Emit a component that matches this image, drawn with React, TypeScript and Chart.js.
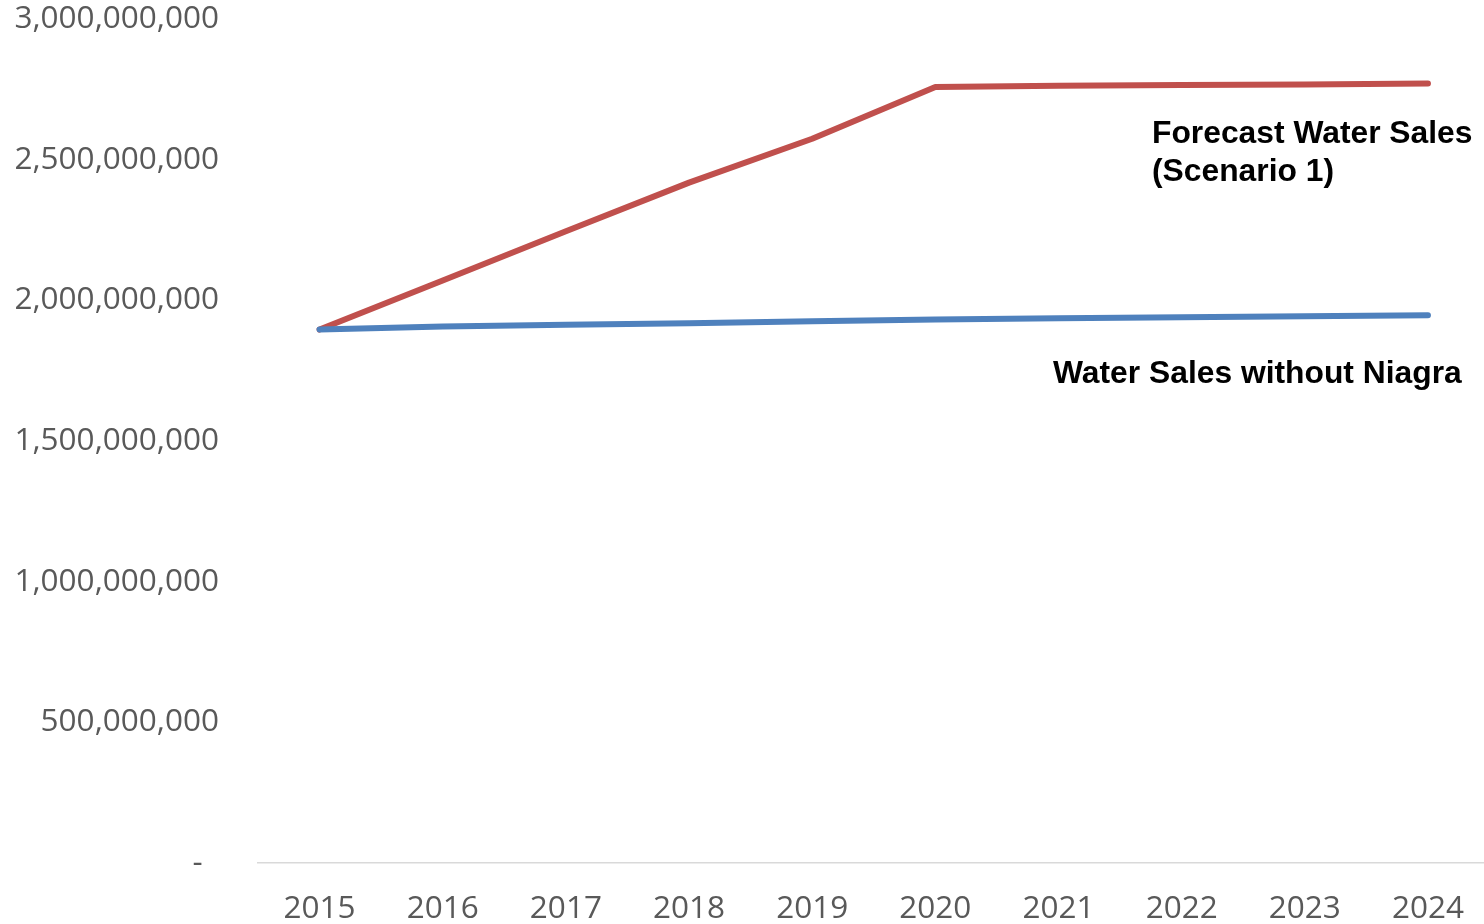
import React, { useEffect, useRef } from "react";
import { Chart, registerables } from "chart.js";

Chart.register(...registerables);

const years = [2015, 2016, 2017, 2018, 2019, 2020, 2021, 2022, 2023, 2024];
const forecastScenario1 = [
  1.896e9, 2.07e9, 2.245e9, 2.418e9, 2.574e9, 2.758e9, 2.762e9, 2.765e9, 2.767e9, 2.77e9,
];
const withoutNiagra = [
  1.896e9, 1.907e9, 1.913e9, 1.918e9, 1.925e9, 1.932e9, 1.936e9, 1.94e9, 1.943e9, 1.947e9,
];
const yTicks = [0, 5e8, 1e9, 1.5e9, 2e9, 2.5e9, 3e9];
const forecastLabel = ["Forecast Water Sales", "(Scenario 1)"];
const withoutLabel = "Water Sales without Niagra";

const tickFont = { family: '"Open Sans", "DejaVu Sans", sans-serif', size: 31.5 };

const annotationPlugin = {
  id: "seriesLabels",
  afterDraw(chart: any) {
    const ctx = chart.ctx;
    ctx.save();
    ctx.font = 'bold 31.8px "Liberation Sans", Arial, sans-serif';
    ctx.fillStyle = "#000000";
    ctx.textAlign = "left";
    ctx.textBaseline = "middle";
    ctx.fillText(forecastLabel[0], 1152, 134);
    ctx.fillText(forecastLabel[1], 1152, 172);
    ctx.fillText(withoutLabel, 1053, 374);
    ctx.restore();
  },
};

export default function App() {
  const canvasRef = useRef<HTMLCanvasElement | null>(null);

  useEffect(() => {
    if (!canvasRef.current) return;
    const chart = new Chart(canvasRef.current, {
      type: "line",
      data: {
        datasets: [
          {
            label: withoutLabel,
            data: years.map((x, i) => ({ x, y: withoutNiagra[i] })),
            borderColor: "#4F81BD",
            backgroundColor: "#4F81BD",
            borderWidth: 6,
            pointRadius: 0,
            tension: 0,
            borderCapStyle: "round",
            borderJoinStyle: "round",
          },
          {
            label: forecastLabel.join(" "),
            data: years.map((x, i) => ({ x, y: forecastScenario1[i] })),
            borderColor: "#C0504D",
            backgroundColor: "#C0504D",
            borderWidth: 6,
            pointRadius: 0,
            tension: 0,
            borderCapStyle: "round",
            borderJoinStyle: "round",
          },
        ],
      },
      options: {
        responsive: false,
        animation: false,
        layout: { padding: { left: 0, right: 0, top: 0, bottom: 0 } },
        plugins: {
          legend: { display: false },
          tooltip: { enabled: false },
        },
        scales: {
          x: {
            type: "linear",
            min: 2014.5,
            max: 2024.455,
            grid: { display: false, drawTicks: true, tickLength: 27 },
            border: { display: true, color: "#d9d9d9", width: 1.5 },
            ticks: {
              font: tickFont,
              color: "#595959",
              padding: 0,
              maxRotation: 0,
              autoSkip: false,
              callback: (v: any) => String(v),
            },
            afterBuildTicks: (scale: any) => {
              scale.ticks = years.map((v) => ({ value: v }));
            },
            afterFit: (scale: any) => {
              scale.height = 61;
            },
          },
          y: {
            min: 0,
            max: 3e9,
            grid: { display: false, drawTicks: true, tickLength: 39 },
            border: { display: false },
            ticks: {
              font: tickFont,
              color: "#595959",
              padding: 0,
              callback: (v: any) => (Number(v) === 0 ? "-  " : Number(v).toLocaleString("en-US")),
            },
            afterBuildTicks: (scale: any) => {
              scale.ticks = yTicks.map((v) => ({ value: v }));
            },
            afterFit: (scale: any) => {
              scale.width = 258;
            },
          },
        },
      },
      plugins: [annotationPlugin],
    } as any);
    return () => chart.destroy();
  }, []);

  return (
    <div
      style={{
        position: "fixed",
        left: 0,
        top: 0,
        width: 1484,
        height: 924,
        background: "#ffffff",
      }}
    >
      <canvas ref={canvasRef} width={1484} height={924} style={{ display: "block" }} />
    </div>
  );
}
